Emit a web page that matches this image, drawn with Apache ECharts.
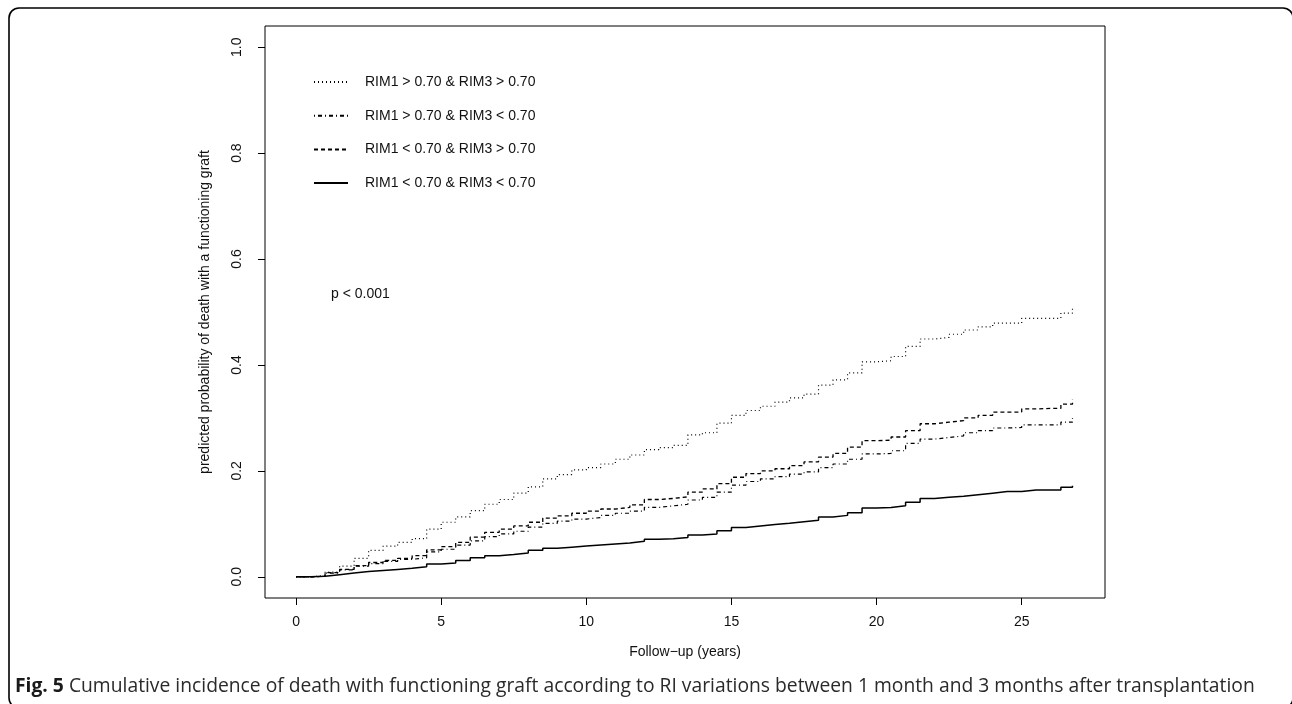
<!DOCTYPE html>
<html>
<head>
<meta charset="utf-8">
<script src="https://cdn.jsdelivr.net/npm/echarts@6/dist/echarts.min.js"></script>
<style>
html,body{margin:0;padding:0;background:#fff;}
#c{width:1292px;height:704px;}
</style>
</head>
<body>
<div id="c"></div>
<script>
// Follow-up time grid (years)
var years = [0, 0.5, 1, 1.5, 2, 2.5, 3, 3.5, 4, 4.5, 5, 5.5, 6, 6.5, 7, 7.5, 8, 8.5, 9, 9.5,
  10, 10.5, 11, 11.5, 12, 12.5, 13, 13.5, 14, 14.5, 15, 15.5, 16, 16.5, 17, 17.5, 18, 18.5, 19, 19.5,
  20, 20.5, 21, 21.5, 22, 22.5, 23, 23.5, 24, 24.5, 25, 25.5, 26, 26.35, 26.75];

var seriesNames = [
  'RIM1 > 0.70 & RIM3 > 0.70',
  'RIM1 > 0.70 & RIM3 < 0.70',
  'RIM1 < 0.70 & RIM3 > 0.70',
  'RIM1 < 0.70 & RIM3 < 0.70'
];

// RIM1 > 0.70 & RIM3 > 0.70 (dotted)
var hiHi = [0, 0.002, 0.009, 0.02, 0.035, 0.05, 0.058, 0.065, 0.072, 0.09, 0.103, 0.113, 0.125, 0.137, 0.146, 0.158, 0.17, 0.185, 0.193, 0.202,
  0.206, 0.213, 0.222, 0.23, 0.24, 0.244, 0.248, 0.268, 0.272, 0.29, 0.305, 0.314, 0.322, 0.33, 0.338, 0.345, 0.362, 0.372, 0.385, 0.406,
  0.408, 0.416, 0.435, 0.449, 0.452, 0.458, 0.466, 0.472, 0.479, 0.479, 0.488, 0.488, 0.488, 0.498, 0.508];

// RIM1 > 0.70 & RIM3 < 0.70 (dot-dash)
var hiLo = [0, 0.001, 0.007, 0.013, 0.02, 0.025, 0.029, 0.033, 0.036, 0.047, 0.052, 0.06, 0.068, 0.076, 0.081, 0.086, 0.094, 0.101, 0.105, 0.109,
  0.112, 0.116, 0.12, 0.124, 0.131, 0.134, 0.137, 0.145, 0.15, 0.16, 0.173, 0.18, 0.185, 0.189, 0.194, 0.198, 0.206, 0.213, 0.222, 0.232,
  0.233, 0.238, 0.252, 0.26, 0.263, 0.266, 0.272, 0.276, 0.281, 0.282, 0.287, 0.287, 0.287, 0.292, 0.300];

// RIM1 < 0.70 & RIM3 > 0.70 (dashed)
var loHi = [0, 0.001, 0.008, 0.014, 0.021, 0.027, 0.031, 0.035, 0.04, 0.051, 0.057, 0.065, 0.075, 0.084, 0.09, 0.096, 0.103, 0.111, 0.115, 0.12,
  0.124, 0.128, 0.131, 0.136, 0.146, 0.148, 0.151, 0.16, 0.166, 0.176, 0.188, 0.195, 0.2, 0.204, 0.21, 0.217, 0.226, 0.233, 0.245, 0.257,
  0.258, 0.264, 0.276, 0.289, 0.292, 0.295, 0.3, 0.305, 0.311, 0.311, 0.317, 0.318, 0.318, 0.326, 0.335];

// RIM1 < 0.70 & RIM3 < 0.70 (solid)
var loLo = [0, 0.001, 0.004, 0.007, 0.01, 0.012, 0.014, 0.016, 0.019, 0.024, 0.026, 0.031, 0.036, 0.04, 0.042, 0.045, 0.05, 0.054, 0.056, 0.058,
  0.06, 0.062, 0.064, 0.067, 0.071, 0.072, 0.074, 0.079, 0.081, 0.087, 0.093, 0.096, 0.099, 0.101, 0.104, 0.107, 0.113, 0.116, 0.121, 0.13,
  0.131, 0.134, 0.141, 0.148, 0.15, 0.152, 0.155, 0.158, 0.161, 0.161, 0.164, 0.164, 0.164, 0.169, 0.172];

var xTicks = [0, 5, 10, 15, 20, 25];
var yTicks = [0, 0.2, 0.4, 0.6, 0.8, 1.0];

var FONT = '"Liberation Sans", Arial, Helvetica, sans-serif';
var INK = '#111';

function pairs(vals) {
  return years.map(function (t, i) { return [t, vals[i]]; });
}

var styles = [
  { type: [1, 3], width: 1.2 },
  { type: [1, 3, 4, 3], width: 1.2 },
  { type: [4, 3], width: 1.3 },
  { type: 'solid', width: 1.5 }
];
var valueSets = [hiHi, hiLo, loHi, loLo];

var series = seriesNames.map(function (name, i) {
  return {
    name: name,
    type: 'line',
    step: 'end',
    symbol: 'none',
    silent: true,
    data: pairs(valueSets[i]),
    lineStyle: { color: '#000', width: styles[i].width, type: styles[i].type },
    itemStyle: { color: '#000' }
  };
});

var chart = echarts.init(document.getElementById('c'), null, { renderer: 'canvas' });
chart.setOption({
  animation: false,
  backgroundColor: '#fff',
  textStyle: { fontFamily: FONT, color: INK },
  grid: {
    left: 265, right: 187, top: 26, bottom: 106,
    show: true, borderColor: '#000', borderWidth: 1, backgroundColor: 'transparent'
  },
  legend: {
    orient: 'vertical',
    left: 313, top: 75,
    padding: 0,
    itemWidth: 34, itemHeight: 14, itemGap: 19.7,
    selectedMode: false,
    data: seriesNames,
    itemStyle: { opacity: 0 },
    textStyle: { fontFamily: FONT, fontSize: 14, color: INK, padding: [0, 0, 0, 12] }
  },
  xAxis: {
    type: 'value',
    min: -1.07, max: 27.87,
    name: 'Follow\u2212up (years)',
    nameLocation: 'middle',
    nameGap: 47,
    nameTextStyle: { fontFamily: FONT, fontSize: 14, color: INK },
    axisLine: { show: false, onZero: false },
    splitLine: { show: false },
    axisTick: { show: true, length: 7, customValues: xTicks, lineStyle: { color: '#000', width: 1 } },
    axisLabel: { customValues: xTicks, margin: 17, fontFamily: FONT, fontSize: 14, color: INK,
      formatter: function (v) { return String(v); } }
  },
  yAxis: {
    type: 'value',
    min: -0.04, max: 1.04,
    name: 'predicted probability of death with a functioning graft',
    nameLocation: 'middle',
    nameGap: 53,
    nameRotate: 90,
    nameTextStyle: { fontFamily: FONT, fontSize: 14, color: INK },
    axisLine: { show: false, onZero: false },
    splitLine: { show: false },
    axisTick: { show: true, length: 7, customValues: yTicks, lineStyle: { color: '#000', width: 1 } },
    axisLabel: { customValues: yTicks, margin: 21, rotate: 90, fontFamily: FONT, fontSize: 14, color: INK,
      formatter: function (v) { return v.toFixed(1); } }
  },
  title: {
    left: 15, top: 677,
    padding: 0,
    text: '{b|Fig. 5} Cumulative incidence of death with functioning graft according to RI variations between 1 month and 3 months after transplantation',
    textStyle: {
      fontFamily: '"Open Sans", "Noto Sans", sans-serif', fontSize: 19.3, fontWeight: 'normal', color: '#2a2a2a',
      rich: {
        b: { fontFamily: '"Open Sans", "Noto Sans", sans-serif', fontSize: 19.3, fontWeight: 'bold', color: '#1a1a1a' }
      }
    }
  },
  graphic: [
    {
      type: 'rect', silent: true, z: 100,
      shape: { x: 9, y: 8, width: 1284, height: 700, r: 10 },
      style: { fill: 'none', stroke: '#000', lineWidth: 1.6 }
    },
    {
      type: 'text', silent: true, left: 331, top: 287,
      style: { text: 'p < 0.001', font: '14px ' + FONT, fill: INK }
    }
  ],
  series: series
});
</script>
</body>
</html>
